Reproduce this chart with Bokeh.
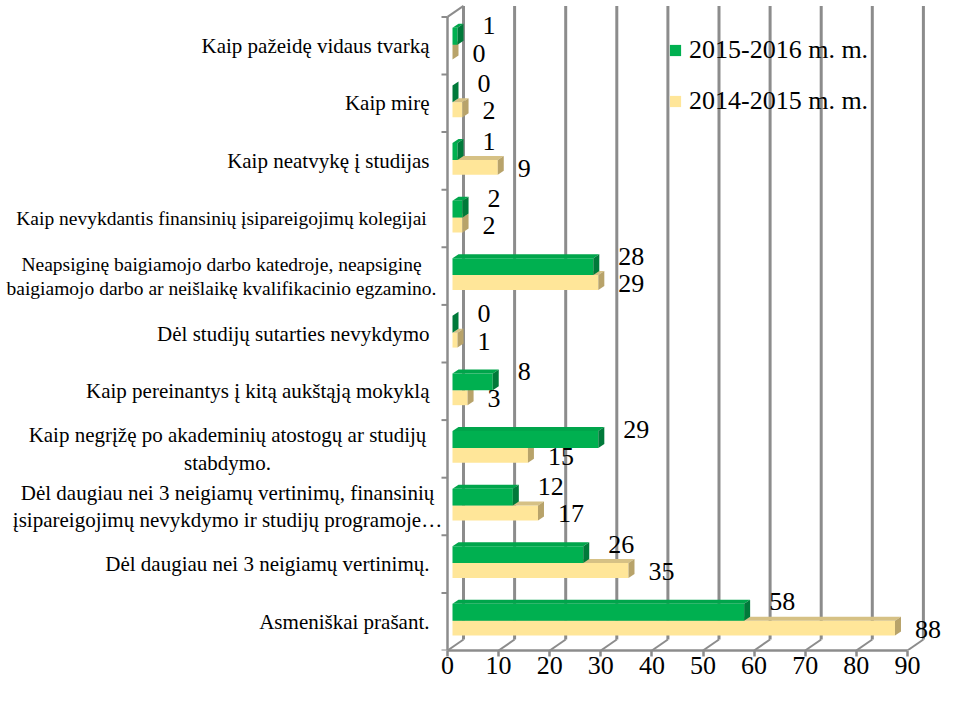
from bokeh.plotting import figure
from bokeh.models import Range1d, FixedTicker, Legend, LegendItem
from bokeh.core.properties import value
from bokeh.embed import file_html
from bokeh.resources import INLINE

# ---------------- data (top to bottom, as in the picture) ----------------
categories = [
    "Kaip pažeidę vidaus tvarką",
    "Kaip mirę",
    "Kaip neatvykę į studijas",
    "Kaip nevykdantis finansinių įsipareigojimų kolegijai",
    "Neapsiginę baigiamojo darbo katedroje, neapsiginę\nbaigiamojo darbo ar neišlaikę kvalifikacinio egzamino.",
    "Dėl studijų sutarties nevykdymo",
    "Kaip pereinantys į kitą aukštąją mokyklą",
    "Kaip negrįžę po akademinių atostogų ar studijų\nstabdymo.",
    "Dėl daugiau nei 3 neigiamų vertinimų, finansinių\nįsipareigojimų nevykdymo ir studijų programoje…",
    "Dėl daugiau nei 3 neigiamų vertinimų.",
    "Asmeniškai prašant.",
]
series_2015_2016 = [1, 0, 1, 2, 28, 0, 8, 29, 12, 26, 58]
series_2014_2015 = [0, 2, 9, 2, 29, 1, 3, 15, 17, 35, 88]
series_names = ["2015-2016 m. m.", "2014-2015 m. m."]
x_ticks = [0, 10, 20, 30, 40, 50, 60, 70, 80, 90]

# label layout: "r" right aligned next to axis, "c1"/"c2" centred blocks
label_layout = ["r", "r", "r", "c2", "c2", "r", "r", "c1", "c1", "r", "r"]

# ---------------- geometry / style ----------------
FONT_NAME = "Times New Roman, Liberation Serif, serif"
FONT = value(FONT_NAME)
GRID = "#8c8c8c"
GREEN, GREEN_TOP, GREEN_SIDE = "#00b050", "#00a54b", "#007a3a"
YEL, YEL_TOP, YEL_SIDE = "#ffe699", "#d6c185", "#b8a36a"

W, H = 945, 688
BOTTOM = 38
FW, FH = W, H - BOTTOM
PX_X = 5.11          # px per value unit
PX_Y = 57.6          # px per category band
X0 = 447             # canvas x of value 0 (front plane)
DX, DY = 16 / PX_X, 11 / PX_Y      # wall depth
BDX, BDY = 6 / PX_X, 4 / PX_Y      # bar depth
BL, BS = 5 / PX_X, 0.984           # bar front start and scale

n = len(categories)
ks = [n - 1 - i for i in range(n)]   # band index from bottom

p = figure(width=W, height=H,
           x_range=Range1d(-X0 / PX_X, (FW - X0) / PX_X),
           y_range=Range1d(0, FH / PX_Y),
           y_axis_location=None, toolbar_location=None,
           output_backend="svg", min_border_left=0, min_border_right=0,
           min_border_top=0, min_border_bottom=BOTTOM)
p.outline_line_color = None
p.grid.visible = False
p.background_fill_color = "white"

# x axis (front edge of the floor)
ax = p.xaxis[0]
ax.bounds = (x_ticks[0], x_ticks[-1])
ax.ticker = FixedTicker(ticks=x_ticks)
ax.axis_line_color = GRID
ax.axis_line_width = 2.5
ax.major_tick_line_color = GRID
ax.major_tick_line_width = 2.5
ax.major_tick_out = 6
ax.major_tick_in = 0
ax.minor_tick_line_color = None
ax.major_label_text_font = FONT_NAME
ax.major_label_text_font_size = "26px"
ax.major_label_text_color = "black"
ax.major_label_standoff = 0

# back wall grid lines
p.segment(x0=[v + DX for v in x_ticks], y0=[DY] * len(x_ticks),
          x1=[v + DX for v in x_ticks], y1=[n + DY] * len(x_ticks),
          line_color=GRID, line_width=3)
# floor diagonals
p.segment(x0=x_ticks, y0=[0] * len(x_ticks),
          x1=[v + DX for v in x_ticks], y1=[DY] * len(x_ticks),
          line_color=GRID, line_width=2)
# left wall: front axis, category ticks, top diagonal
p.segment(x0=[0], y0=[0], x1=[0], y1=[n], line_color=GRID, line_width=2.5)
bounds = list(range(n + 1))
p.segment(x0=[-6 / PX_X] * len(bounds), y0=bounds, x1=[0] * len(bounds), y1=bounds,
          line_color=GRID, line_width=2)
p.segment(x0=[0], y0=[n], x1=[DX], y1=[n + DY], line_color=GRID, line_width=2)


def bar(vals, lo, hi, c_front, c_top, c_side):
    left = [BL] * n
    right = [BL + BS * v for v in vals]
    bot = [k + lo for k in ks]
    top = [k + hi for k in ks]
    fr = p.quad(left=left, right=right, bottom=bot, top=top,
                fill_color=c_front, line_color=None)
    p.patches(xs=[[l, r, r + BDX, l + BDX] for l, r in zip(left, right)],
              ys=[[t, t, t + BDY, t + BDY] for t in top],
              fill_color=c_top, line_color=None)
    p.patches(xs=[[r, r + BDX, r + BDX, r] for r in right],
              ys=[[b, b + BDY, t + BDY, t] for b, t in zip(bot, top)],
              fill_color=c_side, line_color=None)
    return fr, right, bot, top


yel_r, yel_right, yel_bot, yel_top = bar(series_2014_2015, 0.259, 0.517, YEL, YEL_TOP, YEL_SIDE)
grn_r, grn_right, grn_bot, grn_top = bar(series_2015_2016, 0.517, 0.81, GREEN, GREEN_TOP, GREEN_SIDE)

# value labels
p.text(x=[r + 25 / PX_X for r in grn_right], y=[t + 2 / PX_Y for t in grn_top],
       text=[str(v) for v in series_2015_2016], text_font=FONT, text_font_size="26px",
       text_color="black", text_align="left", text_baseline="middle")
p.text(x=[r + 20 / PX_X for r in yel_right],
       y=[(b + t) / 2 - 1 / PX_Y for b, t in zip(yel_bot, yel_top)],
       text=[str(v) for v in series_2014_2015], text_font=FONT, text_font_size="26px",
       text_color="black", text_align="left", text_baseline="middle")

# category labels (long ones slightly smaller so that they stay inside)
anchor = {"r": -18 / PX_X, "c1": (235 - 455) / PX_X, "c2": (229 - 455) / PX_X}
sizes = {"r": "21px", "c1": "21px", "c2": "19.5px"}
for mode, align in (("r", "right"), ("c1", "center"), ("c2", "center")):
    idx = [i for i in range(n) if label_layout[i] == mode]
    p.text(x=[anchor[mode]] * len(idx), y=[ks[i] + 0.5 for i in idx],
           text=[categories[i] for i in idx], text_font=FONT, text_font_size=sizes[mode],
           text_color="black", text_align=align, text_baseline="middle",
           text_line_height=1.15)

legend = Legend(items=[LegendItem(label=series_names[0], renderers=[grn_r]),
                       LegendItem(label=series_names[1], renderers=[yel_r])],
                location=(668, 534), glyph_width=14, glyph_height=14,
                label_text_font=FONT_NAME, label_text_font_size="26px",
                label_text_color="black", spacing=21, padding=0, margin=0,
                label_standoff=7, border_line_color=None, background_fill_alpha=0)
p.add_layout(legend)

open("out.html", "w").write(file_html(p, INLINE))
